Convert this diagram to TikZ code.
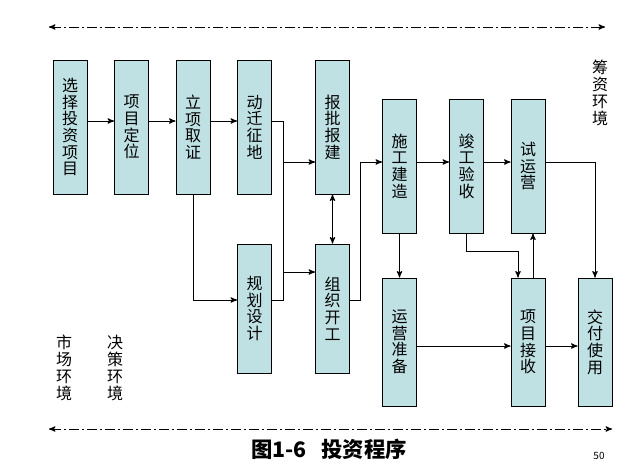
\documentclass[tikz,border=0pt]{standalone}
\usepackage{fontspec}
\setmainfont{Noto Sans CJK SC}
\usepackage{xcolor}
\usepackage{tikz}
\usetikzlibrary{arrows}
\definecolor{stagefill}{RGB}{191,225,228}
\tikzset{
	stage node/.style={rectangle,draw,fill=stagefill,line width=0.75pt,inner sep=0pt,
		minimum width=25.5pt,align=center,font=\fontsize{12}{12.5}\selectfont},
	env node/.style={align=center,inner sep=0pt,font=\fontsize{12}{12.6}\selectfont},
	env line/.style={<->,line width=0.75pt,dash pattern=on 7.5pt off 2.25pt on 1.5pt off 2.25pt}
}

\begin{document}
\begin{tikzpicture}[->,>=stealth',x=0.75pt,y=-0.75pt,line width=0.75pt]
		    \useasboundingbox (0,0) rectangle (629,462);
		    % upper row
		    \node [stage node,minimum height=100.5pt] (select) at (70,127) {选\\择\\投\\资\\项\\目};
		    \node [stage node,minimum height=100.5pt] (locate) at (131.5,127) {项\\目\\定\\位};
		    \node [stage node,minimum height=100.5pt] (approve) at (193,127) {立\\项\\取\\证};
		    \node [stage node,minimum height=100.5pt] (move) at (254.5,127) {动\\迁\\征\\地};
		    \node [stage node,minimum height=100.5pt] (report) at (332.5,127) {报\\批\\报\\建};
		    \node [stage node,minimum height=100.5pt] (build) at (399.5,166) {施\\工\\建\\造};
		    \node [stage node,minimum height=100.5pt] (accept) at (466.5,166) {竣\\工\\验\\收};
		    \node [stage node,minimum height=100.5pt] (trial) at (528,166) {试\\运\\营};
		    % lower row
		    \node [stage node,minimum height=96.75pt] (plan) at (254.5,308.5) {规\\划\\设\\计};
		    \node [stage node,minimum height=96.75pt] (org) at (332.5,308.5) {组\\织\\开\\工};
		    \node [stage node,minimum height=96pt] (prep) at (399.5,342) {运\\营\\准\\备};
		    \node [stage node,minimum height=96pt] (receive) at (528,342) {项\\目\\接\\收};
		    \node [stage node,minimum height=96pt] (deliver) at (595,342) {交\\付\\使\\用};
		    % environments
		    \node [env node] (fund) at (600,93) {筹\\资\\环\\境};
		    \node [env node] (market) at (64,368) {市\\场\\环\\境};
		    \node [env node] (decide) at (115,368) {决\\策\\环\\境};
		    \coordinate (topl) at (49,27);
		    \coordinate (topr) at (605,27);
		    \coordinate (botl) at (49,429);
		    \coordinate (botr) at (612,429);
		    \draw [env line] (topl) -- (topr);
		    \draw [env line] (botl) -- (botr);
		    % rows and buses
		    \coordinate (r1) at (0,121);
		    \coordinate (r2) at (0,162);
		    \coordinate (r3) at (0,272);
		    \coordinate (r4) at (0,300);
		    \coordinate (r5) at (0,251);
		    \coordinate (r6) at (0,346);
		    \coordinate (bus1) at (283,0);
		    \coordinate (bus2) at (360,0);
		    \draw (select.east |- r1) -- (locate.west |- r1);
		    \draw (locate.east |- r1) -- (approve.west |- r1);
		    \draw (approve.east |- r1) -- (move.west |- r1);
		    \draw [-] (move.east |- r1) -| (bus1 |- r4) -- (plan.east |- r4);
		    \draw (bus1 |- r2) -- (report.west |- r2);
		    \draw (bus1 |- r3) -- (org.west |- r3);
		    \draw (approve.south) |- (plan.west |- r4);
		    \draw [<->] (report.south) -- (org.north);
		    \draw (org.east |- r4) -| (bus2 |- r2) -- (build.west |- r2);
		    \draw (build.east |- r2) -- (accept.west |- r2);
		    \draw (accept.east |- r2) -- (trial.west |- r2);
		    \draw (trial.east |- r2) -| (deliver.north);
		    \draw (build.south) -- (prep.north);
		    \draw (accept.south) |- ([xshift=-7.5pt]receive.north |- r5) -- ([xshift=-7.5pt]receive.north);
		    \draw ([xshift=3.75pt]receive.north) -- ([xshift=3.75pt]receive.north |- trial.south);
		    \draw (prep.east |- r6) -- (receive.west |- r6);
		    \draw (receive.east |- r6) -- (deliver.west |- r6);
		    % caption
		    \node [font=\fontsize{16}{16}\selectfont\bfseries] (caption) at (329,449) {图1-6\ \ \ 投资程序};
		    \node [font=\fontsize{7.5}{7.5}\selectfont] (page) at (599,456) {50};
		  \end{tikzpicture}
\end{document}
